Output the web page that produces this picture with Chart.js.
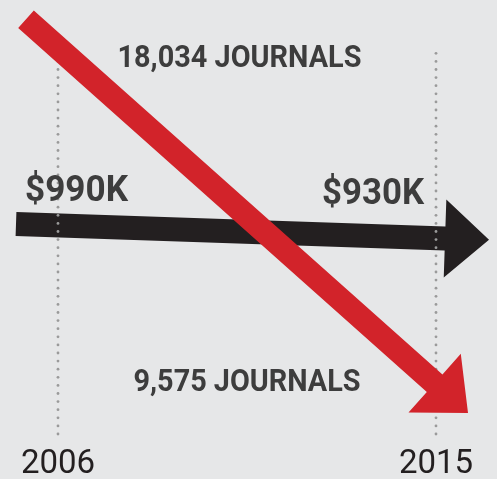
<!DOCTYPE html>
<html>
<head>
<meta charset="utf-8">
<script src="https://cdn.jsdelivr.net/npm/chart.js@4.4.0/dist/chart.umd.min.js"></script>
<style>
  html, body { margin: 0; padding: 0; background: #e6e7e8; }
  #wrap { width: 497px; height: 479px; }
</style>
</head>
<body>
<div id="wrap"><canvas id="chart" width="497" height="479"></canvas></div>
<script>
// data
const years = [2006, 2015];
const journals = [18034, 9575];
const budgetK = [990, 930];
const journalLabels = ["18,034 JOURNALS", "9,575 JOURNALS"];
const budgetLabels = ["$990K", "$930K"];

const BG = "#e6e7e8";
const RED = "#d2232a";
const BLACK = "#231f20";
const LABEL = "#3d3d3d";

function arrowPath(ctx, s, t, w, hl, hw) {
  const dx = t.x - s.x, dy = t.y - s.y;
  const len = Math.hypot(dx, dy);
  const ux = dx / len, uy = dy / len;
  const nx = -uy, ny = ux;
  const bx = t.x - ux * hl, by = t.y - uy * hl;
  ctx.beginPath();
  ctx.moveTo(s.x + nx * w / 2, s.y + ny * w / 2);
  ctx.lineTo(bx + nx * w / 2, by + ny * w / 2);
  ctx.lineTo(bx + nx * hw, by + ny * hw);
  ctx.lineTo(t.x, t.y);
  ctx.lineTo(bx - nx * hw, by - ny * hw);
  ctx.lineTo(bx - nx * w / 2, by - ny * w / 2);
  ctx.lineTo(s.x - nx * w / 2, s.y - ny * w / 2);
  ctx.closePath();
}

// extend the segment between the two data points by some pixels along x
function extended(p0, p1, before, after) {
  const dx = p1.x - p0.x, dy = p1.y - p0.y;
  return {
    s: { x: p0.x - before, y: p0.y - dy * before / dx },
    t: { x: p1.x + after, y: p1.y + dy * after / dx }
  };
}

function fitText(ctx, text, x, y, width, size, align) {
  ctx.save();
  ctx.font = "bold " + size + "px Roboto";
  const m = ctx.measureText(text).width;
  const k = width / m;
  let left = x;
  if (align === "center") left = x - width / 2;
  if (align === "right") left = x - width;
  ctx.translate(left, y);
  ctx.scale(k, 1);
  ctx.textAlign = "left";
  ctx.textBaseline = "alphabetic";
  ctx.fillStyle = LABEL;
  ctx.fillText(text, 0, 0);
  ctx.restore();
}

const arrowsPlugin = {
  id: "arrows",
  beforeDraw(chart) {
    const ctx = chart.ctx;
    ctx.save();
    ctx.fillStyle = BG;
    ctx.fillRect(0, 0, chart.width, chart.height);
    ctx.restore();
  },
  afterDatasetsDraw(chart) {
    const ctx = chart.ctx;
    const xs = chart.scales.x;
    const jPts = chart.getDatasetMeta(0).data;
    const bPts = chart.getDatasetMeta(1).data;

    // black budget arrow
    const b = extended(bPts[0], bPts[1], 42, 53);
    ctx.save();
    ctx.fillStyle = BLACK;
    arrowPath(ctx, b.s, b.t, 24, 44, 39);
    ctx.fill();
    ctx.restore();

    // dotted year guides
    ctx.save();
    ctx.fillStyle = "#9a9a9a";
    years.forEach(function (yr) {
      const px = Math.round(xs.getPixelForValue(yr));
      for (let y = 434; y >= 46; y -= 8.1) {
        ctx.beginPath();
        ctx.arc(px, y, 1.4, 0, Math.PI * 2);
        ctx.fill();
      }
    });
    ctx.restore();

    // red journals arrow
    const r = extended(jPts[0], jPts[1], 32, 32);
    ctx.save();
    ctx.fillStyle = RED;
    arrowPath(ctx, r.s, r.t, 23.5, 44.7, 39.3);
    ctx.fill();
    ctx.restore();

    // labels
    fitText(ctx, journalLabels[0], 239.5, 67.3, 244, 31, "center");
    fitText(ctx, journalLabels[1], 247, 390.7, 227, 31, "center");
    fitText(ctx, budgetLabels[0], bPts[0].x - 33, 201, 103, 37, "left");
    fitText(ctx, budgetLabels[1], bPts[1].x - 12, 203.5, 102, 37, "right");
  }
};

const ctx = document.getElementById("chart").getContext("2d");
new Chart(ctx, {
  type: "line",
  data: {
    datasets: [
      {
        label: "Journals",
        data: years.map((yr, i) => ({ x: yr, y: journals[i] })),
        yAxisID: "yJ",
        showLine: false,
        pointRadius: 0
      },
      {
        label: "Budget",
        data: years.map((yr, i) => ({ x: yr, y: budgetK[i] })),
        yAxisID: "yD",
        showLine: false,
        pointRadius: 0
      }
    ]
  },
  options: {
    responsive: false,
    animation: false,
    layout: { padding: 0 },
    plugins: {
      legend: { display: false },
      tooltip: { enabled: false }
    },
    scales: {
      x: {
        type: "linear",
        min: 2004.619,
        max: 2016.452,
        afterBuildTicks: function (scale) {
          scale.ticks = years.map(v => ({ value: v }));
        },
        afterFit: function (scale) {
          scale.height = 45;
        },
        grid: { display: false, drawTicks: false },
        border: { display: false },
        ticks: {
          padding: 11,
          color: BLACK,
          font: { family: "Roboto", size: 33 },
          callback: v => String(v)
        }
      },
      yJ: { type: "linear", display: false, min: 8329, max: 19232 },
      yD: { type: "linear", display: false, min: -3, max: 2064 }
    }
  },
  plugins: [arrowsPlugin]
});
</script>
</body>
</html>
